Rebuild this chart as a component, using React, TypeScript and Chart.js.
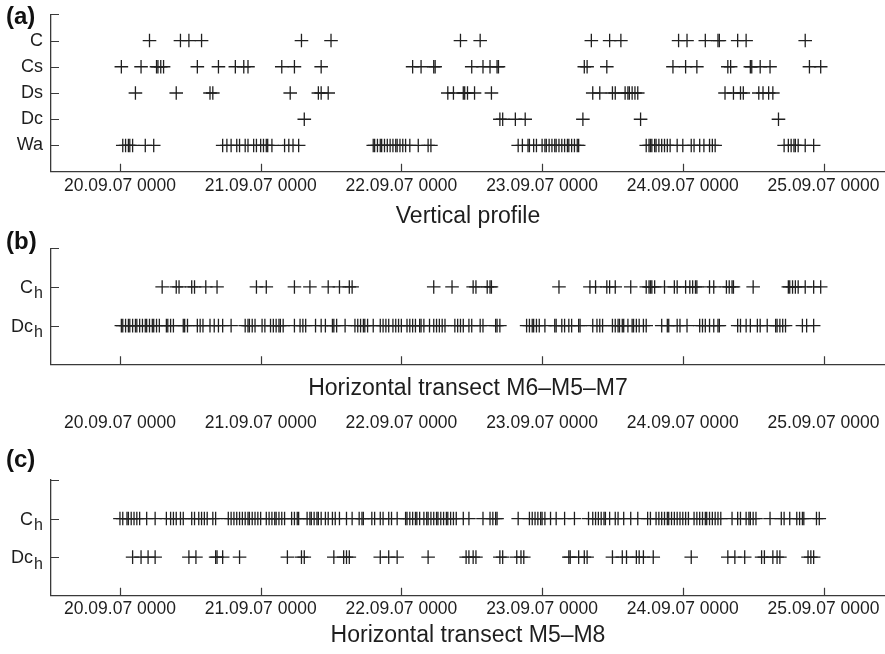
import React, { useEffect, useRef } from 'react';
import { Chart, registerables } from 'chart.js';

Chart.register(...registerables);

const FONT = '"Liberation Sans", Arial, Helvetica, sans-serif';
const TEXT_COLOR = '#1e1e1e';
const AXIS_COLOR = '#3a3a3a';
const MARK_COLOR = '#202020';

// Time axis: days since 20.09.07 0000
const X_MIN = -0.49;
const X_MAX = 5.437;
const tickDays = [0, 1, 2, 3, 4, 5];
const tickLabels = ['20.09.07 0000', '21.09.07 0000', '22.09.07 0000', '23.09.07 0000', '24.09.07 0000', '25.09.07 0000'];

// (a) Vertical profile
const rowLabelsA = ['Wa', 'Dc', 'Ds', 'Cs', 'C'];
const vpC = [0.21, 0.43, 0.49, 0.58, 1.29, 1.5, 2.42, 2.56, 3.35, 3.48, 3.56, 3.97, 4.03, 4.16, 4.25, 4.26, 4.39, 4.45, 4.87];
const vpCs = [0.01, 0.15, 0.26, 0.27, 0.29, 0.31, 0.55, 0.7, 0.82, 0.88, 0.91, 1.15, 1.24, 1.43, 2.08, 2.14, 2.23, 2.24, 2.5, 2.58, 2.63, 2.68, 2.69, 3.3, 3.32, 3.46, 3.93, 4.02, 4.1, 4.32, 4.34, 4.48, 4.49, 4.55, 4.62, 4.9, 4.98];
const vpDs = [0.11, 0.4, 0.64, 0.66, 1.21, 1.41, 1.43, 1.48, 2.33, 2.37, 2.44, 2.45, 2.47, 2.52, 2.64, 3.36, 3.41, 3.5, 3.52, 3.59, 3.61, 3.62, 3.64, 3.66, 3.68, 4.3, 4.36, 4.41, 4.43, 4.54, 4.57, 4.61, 4.64];
const vpDc = [1.31, 2.7, 2.72, 2.81, 2.88, 3.29, 3.7, 4.68];
const vpWa = [0.02, 0.04, 0.06, 0.07, 0.09, 0.18, 0.24, 0.73, 0.76, 0.79, 0.83, 0.85, 0.89, 0.91, 0.95, 0.97, 1.0, 1.02, 1.04, 1.05, 1.08, 1.17, 1.2, 1.23, 1.27, 1.8, 1.81, 1.83, 1.85, 1.86, 1.88, 1.9, 1.92, 1.94, 1.96, 1.97, 1.99, 2.01, 2.03, 2.06, 2.12, 2.19, 2.21, 2.83, 2.86, 2.9, 2.91, 2.94, 2.96, 3.0, 3.02, 3.03, 3.05, 3.07, 3.09, 3.1, 3.12, 3.14, 3.16, 3.18, 3.19, 3.21, 3.23, 3.25, 3.26, 3.74, 3.76, 3.77, 3.78, 3.8, 3.81, 3.83, 3.85, 3.87, 3.89, 3.91, 3.96, 4.0, 4.06, 4.08, 4.12, 4.15, 4.19, 4.21, 4.23, 4.72, 4.75, 4.77, 4.79, 4.8, 4.82, 4.87, 4.93];

// (b) Horizontal transect M6–M5–M7
const rowLabelsH = ['Dc_h', 'C_h'];
const tbCh = [0.3, 0.4, 0.42, 0.51, 0.53, 0.61, 0.69, 0.97, 1.04, 1.24, 1.35, 1.48, 1.56, 1.63, 1.65, 2.23, 2.36, 2.51, 2.53, 2.61, 2.63, 2.64, 3.12, 3.34, 3.38, 3.46, 3.48, 3.52, 3.63, 3.74, 3.76, 3.77, 3.78, 3.8, 3.87, 3.94, 3.96, 4.02, 4.05, 4.07, 4.09, 4.1, 4.19, 4.22, 4.31, 4.33, 4.35, 4.36, 4.5, 4.75, 4.76, 4.78, 4.8, 4.82, 4.87, 4.93, 4.98];
const tbDch = [0.01, 0.02, 0.04, 0.06, 0.07, 0.09, 0.11, 0.12, 0.14, 0.16, 0.18, 0.19, 0.21, 0.23, 0.24, 0.26, 0.28, 0.33, 0.34, 0.36, 0.38, 0.45, 0.46, 0.48, 0.55, 0.57, 0.59, 0.64, 0.67, 0.7, 0.73, 0.79, 0.89, 0.91, 0.92, 0.94, 0.96, 1.01, 1.03, 1.07, 1.09, 1.11, 1.13, 1.14, 1.16, 1.24, 1.28, 1.3, 1.32, 1.39, 1.43, 1.46, 1.51, 1.52, 1.54, 1.6, 1.67, 1.69, 1.71, 1.73, 1.74, 1.76, 1.8, 1.85, 1.87, 1.89, 1.91, 1.94, 1.96, 1.98, 2.0, 2.04, 2.06, 2.08, 2.1, 2.13, 2.14, 2.16, 2.2, 2.23, 2.25, 2.27, 2.29, 2.31, 2.38, 2.4, 2.42, 2.44, 2.48, 2.5, 2.56, 2.58, 2.67, 2.68, 2.7, 2.89, 2.91, 2.93, 2.94, 2.96, 2.98, 3.02, 3.09, 3.1, 3.14, 3.16, 3.19, 3.21, 3.26, 3.27, 3.36, 3.39, 3.41, 3.43, 3.5, 3.52, 3.54, 3.55, 3.57, 3.58, 3.61, 3.64, 3.65, 3.67, 3.69, 3.72, 3.74, 3.85, 3.89, 3.9, 3.96, 3.98, 4.03, 4.12, 4.14, 4.16, 4.19, 4.22, 4.25, 4.26, 4.39, 4.41, 4.45, 4.48, 4.53, 4.55, 4.6, 4.66, 4.67, 4.69, 4.71, 4.73, 4.85, 4.88, 4.93];

// (c) Horizontal transect M5–M8
const tcCh = [0.0, 0.02, 0.05, 0.06, 0.08, 0.1, 0.12, 0.14, 0.19, 0.25, 0.33, 0.36, 0.38, 0.4, 0.43, 0.45, 0.51, 0.53, 0.56, 0.58, 0.6, 0.62, 0.66, 0.68, 0.77, 0.79, 0.81, 0.83, 0.85, 0.87, 0.89, 0.91, 0.92, 0.94, 0.96, 0.98, 1.0, 1.04, 1.06, 1.08, 1.1, 1.11, 1.13, 1.15, 1.17, 1.22, 1.24, 1.26, 1.27, 1.33, 1.35, 1.36, 1.38, 1.4, 1.41, 1.43, 1.46, 1.48, 1.51, 1.53, 1.56, 1.61, 1.65, 1.7, 1.72, 1.73, 1.79, 1.81, 1.85, 1.87, 1.91, 1.93, 1.97, 2.03, 2.04, 2.06, 2.08, 2.1, 2.11, 2.13, 2.16, 2.18, 2.19, 2.21, 2.23, 2.25, 2.26, 2.28, 2.3, 2.32, 2.33, 2.35, 2.37, 2.39, 2.44, 2.48, 2.58, 2.63, 2.65, 2.67, 2.68, 2.83, 2.91, 2.93, 2.95, 2.97, 2.99, 3.0, 3.02, 3.06, 3.1, 3.16, 3.23, 3.33, 3.36, 3.38, 3.4, 3.42, 3.44, 3.45, 3.48, 3.52, 3.54, 3.58, 3.63, 3.68, 3.75, 3.77, 3.81, 3.83, 3.85, 3.87, 3.89, 3.9, 3.92, 3.94, 3.96, 3.98, 4.0, 4.02, 4.04, 4.08, 4.1, 4.12, 4.14, 4.16, 4.17, 4.19, 4.21, 4.23, 4.25, 4.27, 4.35, 4.39, 4.41, 4.45, 4.47, 4.48, 4.5, 4.52, 4.62, 4.7, 4.72, 4.76, 4.81, 4.83, 4.85, 4.86, 4.95, 4.97];
const tcDch = [0.09, 0.15, 0.2, 0.25, 0.49, 0.54, 0.68, 0.69, 0.73, 0.85, 1.19, 1.29, 1.31, 1.52, 1.59, 1.61, 1.63, 1.85, 1.91, 1.97, 2.19, 2.46, 2.48, 2.51, 2.53, 2.7, 2.72, 2.82, 2.85, 2.87, 3.19, 3.2, 3.26, 3.3, 3.32, 3.5, 3.57, 3.6, 3.67, 3.69, 3.72, 3.79, 4.06, 4.32, 4.37, 4.44, 4.56, 4.58, 4.64, 4.67, 4.69, 4.89, 4.91, 4.93];

type Spec = {
  tag: string;
  tagTop: number;
  top: number;
  height: number;
  padTop: number;
  yMax: number;
  rowLabels: string[];
  rows: number[][];
  title: string;
  split: boolean; // tick labels below the title
  xHeight: number;
  tickPad: number;
  titlePadBottom: number;
  x2Height?: number;
};

const axisDecor = {
  id: 'axisDecor',
  afterDraw(chart: any, _args: any, opts: any) {
    const { ctx, chartArea } = chart;
    const xs = chart.scales.x;
    const ys = chart.scales.y;
    ctx.save();
    ctx.strokeStyle = AXIS_COLOR;
    ctx.lineWidth = 1.2;
    ctx.beginPath();
    for (const v of tickDays) {
      const px = Math.round(xs.getPixelForValue(v)) + 0.5;
      ctx.moveTo(px, chartArea.bottom);
      ctx.lineTo(px, chartArea.bottom - 8);
    }
    for (let v = 1; v <= opts.yMax; v++) {
      const py = Math.round(ys.getPixelForValue(v)) + 0.5;
      ctx.moveTo(chartArea.left, py);
      ctx.lineTo(chartArea.left + 8, py);
    }
    ctx.stroke();
    ctx.fillStyle = TEXT_COLOR;
    ctx.textBaseline = 'middle';
    ctx.textAlign = 'right';
    (opts.labels as string[]).forEach((lab, i) => {
      const py = ys.getPixelForValue(i + 1);
      const right = chartArea.left - 8;
      const [main, sub] = lab.split('_');
      if (sub) {
        ctx.font = `16px ${FONT}`;
        const sw = ctx.measureText(sub).width;
        ctx.fillText(sub, right, py + 7);
        ctx.font = `18px ${FONT}`;
        ctx.fillText(main, right - sw - 1, py + 1);
      } else {
        ctx.font = `18px ${FONT}`;
        ctx.fillText(main, right, py);
      }
    });
    ctx.restore();
  },
};

function buildConfig(s: Spec): any {
  const datasets = s.rows.map((vals, i) => ({
    label: s.rowLabels[i],
    data: vals.map((d) => ({ x: d, y: i + 1 })),
    pointStyle: 'cross',
    pointRadius: 6.8,
    pointHoverRadius: 6.8,
    pointBorderWidth: 1.3,
    borderColor: MARK_COLOR,
    backgroundColor: MARK_COLOR,
    showLine: false,
  }));
  const setTicks = (sc: any) => {
    sc.ticks = tickDays.map((v) => ({ value: v }));
  };
  const tickFont = { family: FONT, size: 17.5 };
  const titleFont = { family: FONT, size: 23 };
  const scales: any = {
    y: {
      type: 'linear',
      min: 0,
      max: s.yMax,
      ticks: { display: false },
      grid: { display: false, drawTicks: false },
      border: { display: true, color: AXIS_COLOR, width: 1.3 },
      afterFit: (sc: any) => {
        sc.width = 51;
        sc.paddingTop = 0;
        sc.paddingBottom = 0;
      },
    },
    x: {
      type: 'linear',
      position: 'bottom',
      weight: 0,
      min: X_MIN,
      max: X_MAX,
      afterBuildTicks: setTicks,
      ticks: {
        display: !s.split,
        callback: (_v: any, idx: number) => tickLabels[idx],
        font: tickFont,
        color: TEXT_COLOR,
        padding: s.tickPad,
        maxRotation: 0,
        autoSkip: false,
      },
      grid: { display: false, drawTicks: false },
      border: { display: true, color: AXIS_COLOR, width: 1.3 },
      title: {
        display: true,
        text: s.title,
        font: titleFont,
        color: TEXT_COLOR,
        padding: { top: 0, bottom: s.titlePadBottom },
      },
      afterFit: (sc: any) => {
        sc.height = s.xHeight;
        sc.paddingLeft = 0;
        sc.paddingRight = 0;
      },
    },
  };
  if (s.split) {
    scales.x2 = {
      type: 'linear',
      position: 'bottom',
      weight: 1,
      min: X_MIN,
      max: X_MAX,
      afterBuildTicks: setTicks,
      ticks: {
        callback: (_v: any, idx: number) => tickLabels[idx],
        font: tickFont,
        color: TEXT_COLOR,
        padding: s.tickPad,
        maxRotation: 0,
        autoSkip: false,
      },
      grid: { display: false, drawTicks: false },
      border: { display: false },
      afterFit: (sc: any) => {
        sc.height = s.x2Height;
        sc.paddingLeft = 0;
        sc.paddingRight = 0;
      },
    };
  }
  return {
    type: 'scatter',
    data: { datasets },
    options: {
      animation: false,
      responsive: true,
      maintainAspectRatio: false,
      events: [],
      layout: { autoPadding: false, padding: { top: s.padTop, left: 0, right: 0, bottom: 0 } },
      plugins: {
        legend: { display: false },
        tooltip: { enabled: false },
        axisDecor: { yMax: s.yMax, labels: s.rowLabels },
      },
      scales,
    },
    plugins: [axisDecor],
  };
}

const panels: Spec[] = [
  {
    tag: '(a)', tagTop: 3, top: 0, height: 232, padTop: 14.3, yMax: 6,
    rowLabels: rowLabelsA, rows: [vpWa, vpDc, vpDs, vpCs, vpC],
    title: 'Vertical profile', split: false, xHeight: 60.3, tickPad: 4, titlePadBottom: 2,
  },
  {
    tag: '(b)', tagTop: 228, top: 232, height: 208, padTop: 16.3, yMax: 3,
    rowLabels: rowLabelsH, rows: [tbDch, tbCh],
    title: 'Horizontal transect M6–M5–M7', split: true, xHeight: 40, tickPad: 8, titlePadBottom: 1.5, x2Height: 35.7,
  },
  {
    tag: '(c)', tagTop: 446, top: 440, height: 214, padTop: 40, yMax: 3,
    rowLabels: rowLabelsH, rows: [tcDch, tcCh],
    title: 'Horizontal transect M5–M8', split: false, xHeight: 58.3, tickPad: 3, titlePadBottom: 4.5,
  },
];

function Panel({ spec }: { spec: Spec }) {
  const ref = useRef<HTMLCanvasElement>(null);
  useEffect(() => {
    const chart = new Chart(ref.current as HTMLCanvasElement, buildConfig(spec));
    return () => chart.destroy();
  }, [spec]);
  return (
    <>
      <div style={{ position: 'absolute', left: 0, top: spec.top, width: 885, height: spec.height }}>
        <canvas ref={ref} />
      </div>
      <div
        style={{
          position: 'absolute',
          left: 6,
          top: spec.tagTop,
          font: `bold 24px ${FONT}`,
          lineHeight: '26px',
          color: '#111',
        }}
      >
        {spec.tag}
      </div>
    </>
  );
}

export default function App() {
  return (
    <div style={{ position: 'absolute', left: 0, top: 0, width: 885, height: 654, background: '#fff' }}>
      {panels.map((p) => (
        <Panel key={p.tag} spec={p} />
      ))}
    </div>
  );
}
